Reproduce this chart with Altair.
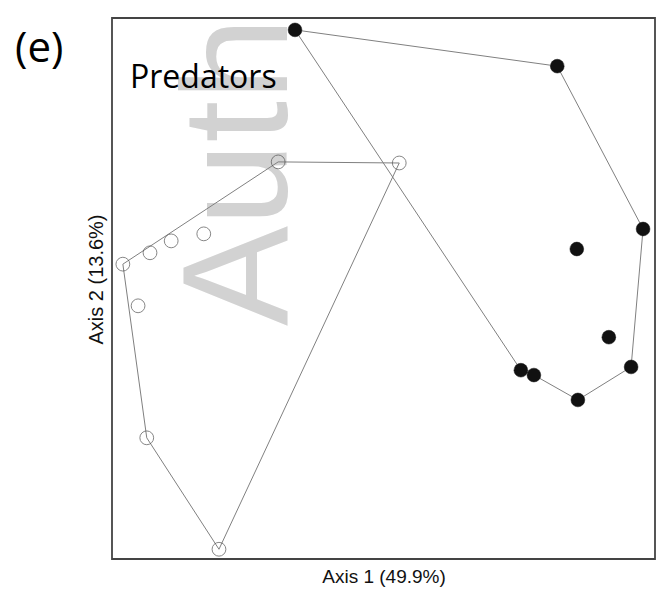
import altair as alt
import pandas as pd

# Ordination scores (arbitrary units, 0-100 frame)
open_x = [2.0, 7.0, 10.9, 16.9, 4.8, 6.4, 19.7, 30.6, 52.9]
open_y = [54.5, 56.6, 58.8, 60.1, 46.8, 22.4, 1.8, 73.4, 73.2]
filled_x = [33.7, 82.0, 97.8, 85.6, 91.5, 95.6, 85.8, 77.7, 75.3]
filled_y = [97.8, 91.1, 61.0, 57.3, 41.0, 35.5, 29.4, 34.0, 34.9]

# Convex hull vertex order (indices into the arrays above)
open_hull = [0, 7, 8, 6, 5, 0]
filled_hull = [0, 1, 2, 5, 6, 7, 8, 0]

x_title = "Axis 1 (49.9%)"
y_title = "Axis 2 (13.6%)"
panel_label = "(e)"
group_label = "Predators"
watermark = "Auth"

pts_open = pd.DataFrame({"x": open_x, "y": open_y})
pts_filled = pd.DataFrame({"x": filled_x, "y": filled_y})

hull_rows = []
for k, i in enumerate(open_hull):
    hull_rows.append({"x": open_x[i], "y": open_y[i], "g": "open", "o": k})
for k, i in enumerate(filled_hull):
    hull_rows.append({"x": filled_x[i], "y": filled_y[i], "g": "filled", "o": k})
hulls = pd.DataFrame(hull_rows)

xs = alt.Scale(domain=[0, 100], nice=False, zero=False)
ys = alt.Scale(domain=[0, 100], nice=False, zero=False)

X = alt.X("x:Q", scale=xs, axis=alt.Axis(title=x_title, labels=False, ticks=False,
                                           grid=False, domain=False, titlePadding=8,
                                           titleFontSize=19, titleFont="Liberation Sans",
                                           titleFontWeight="normal", titleColor="#111"))
Y = alt.Y("y:Q", scale=ys, axis=alt.Axis(title=y_title, labels=False, ticks=False,
                                           grid=False, domain=False, titlePadding=6,
                                           titleY=261,
                                           titleFontSize=20, titleFont="Liberation Sans",
                                           titleFontWeight="normal", titleColor="#111"))

wm = alt.Chart(pd.DataFrame({"t": [watermark]})).mark_text(
    font="Liberation Sans", fontSize=150, color="#d2d2d2", angle=270,
    align="left", baseline="alphabetic"
).encode(text="t:N", x=alt.value(175), y=alt.value(308))

lines = alt.Chart(hulls).mark_line(color="#808080", strokeWidth=1).encode(
    x=X, y=Y, detail="g:N", order="o:Q"
)

open_pts = alt.Chart(pts_open).mark_point(
    shape="circle", filled=False, stroke="#555555", strokeWidth=1, size=190
).encode(x=X, y=Y)

filled_pts = alt.Chart(pts_filled).mark_point(
    shape="circle", filled=True, fill="#111111", stroke="#111111", strokeWidth=0.5,
    size=190, opacity=1
).encode(x=X, y=Y)

lab_e = alt.Chart(pd.DataFrame({"t": [panel_label]})).mark_text(
    font="Open Sans", fontSize=42, color="#000", align="left", baseline="alphabetic"
).encode(text="t:N", x=alt.value(-97), y=alt.value(44))

lab_p = alt.Chart(pd.DataFrame({"t": [group_label]})).mark_text(
    font="Open Sans", fontSize=32, color="#000", align="left", baseline="alphabetic"
).encode(text="t:N", x=alt.value(18), y=alt.value(70))

chart = alt.layer(wm, lines, open_pts, filled_pts, lab_e, lab_p).properties(
    width=543, height=541,
    autosize=alt.AutoSizeParams(type="none"),
    padding={"left": 112, "top": 18, "right": 6, "bottom": 37},
    background="white",
).configure_view(stroke="#444444", strokeWidth=1.8)

chart.save("out.html", embed_options={"renderer": "svg", "actions": False})
